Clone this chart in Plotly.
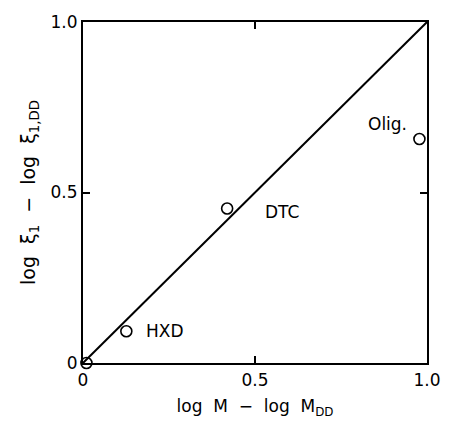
import plotly.graph_objects as go

# Data
names = ["", "HXD", "DTC", "Olig."]
x_vals = [0.01, 0.126, 0.419, 0.978]
y_vals = [0.0, 0.093, 0.453, 0.657]
line_x = [0.0, 1.0]
line_y = [0.0, 1.0]
tick_vals = [0, 0.5, 1.0]
tick_text = ["0", "0.5", "1.0"]

FONT = "DejaVu Sans, Liberation Sans, sans-serif"

fig = go.Figure()
fig.add_trace(go.Scatter(x=line_x, y=line_y, mode="lines",
                         line=dict(color="black", width=2), cliponaxis=False,
                         showlegend=False, hoverinfo="skip"))
fig.add_trace(go.Scatter(x=x_vals, y=y_vals, mode="markers",
                         marker=dict(symbol="circle-open", size=11,
                                     color="black", line=dict(width=1.6)),
                         cliponaxis=False, showlegend=False))

# point labels
label_offsets = {"HXD": (0.05, 0.0, "left"), "DTC": (0.105, -0.01, "left"), "Olig.": (-0.03, 0.045, "right")}
for n, xv, yv in zip(names, x_vals, y_vals):
    if n in label_offsets:
        dx, dy, anchor = label_offsets[n]
        fig.add_annotation(x=xv + dx, y=yv + dy, text=n, showarrow=False,
                           xanchor=anchor, yanchor="middle",
                           font=dict(family=FONT, size=17, color="black"))

axis_common = dict(range=[0, 1], tickvals=tick_vals, ticktext=tick_text,
                   ticks="inside", ticklen=7, tickwidth=1.5, tickcolor="black",
                   showline=True, linecolor="black", linewidth=2.2, mirror="allticks",
                   showgrid=False, zeroline=False,
                   tickfont=dict(family=FONT, size=17, color="black"))

fig.update_xaxes(**axis_common, title=dict(text="log  M  −  log  M<sub>DD</sub>",
                 font=dict(family=FONT, size=17, color="black"), standoff=12))
fig.update_yaxes(**axis_common, title=dict(text="log  ξ<sub>1</sub>  −  log  ξ<sub>1,DD</sub>",
                 font=dict(family=FONT, size=19, color="black"), standoff=10))

fig.update_layout(width=453, height=426, margin=dict(l=83, r=14, t=19, b=63),
                  plot_bgcolor="white", paper_bgcolor="white")

fig.write_html("out.html")
